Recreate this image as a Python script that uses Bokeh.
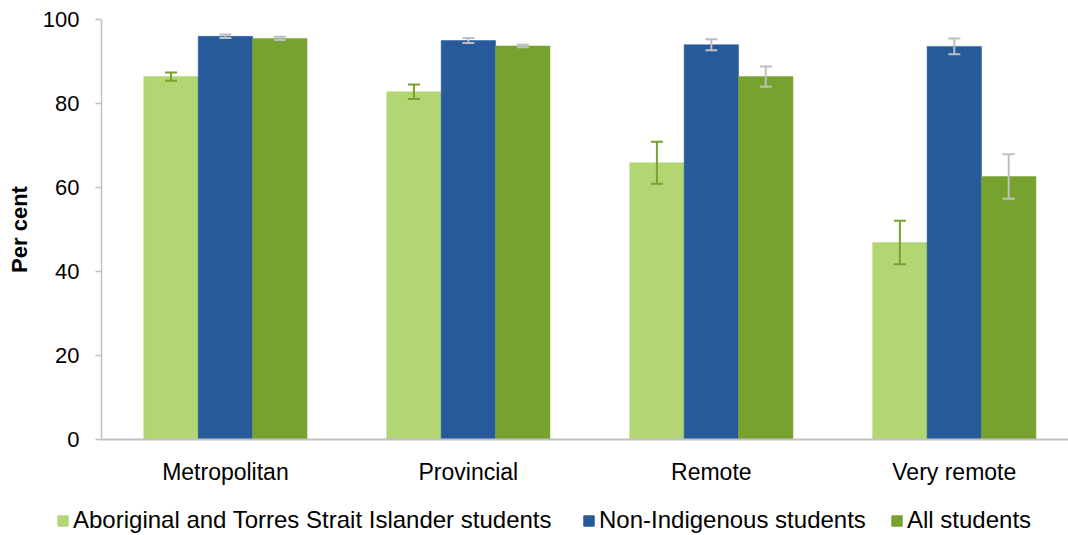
from bokeh.plotting import figure
from bokeh.models import (ColumnDataSource, Range1d, FixedTicker, Whisker, TeeHead,
                          Legend, LegendItem)
from bokeh.layouts import column
from bokeh.embed import file_html
from bokeh.resources import INLINE

# Remoteness areas
categories = ["Metropolitan", "Provincial", "Remote", "Very remote"]

# Per cent of students, with 95% confidence half-widths
indigenous = [86.4, 82.8, 65.9, 46.9]
indigenous_ci = [1.0, 1.7, 5.0, 5.2]
non_indigenous = [96.0, 95.0, 94.0, 93.6]
non_indigenous_ci = [0.4, 0.6, 1.3, 1.9]
all_students = [95.5, 93.7, 86.4, 62.6]
all_students_ci = [0.4, 0.3, 2.4, 5.3]

series_names = ["Aboriginal and Torres Strait Islander students",
                "Non-Indigenous students", "All students"]
y_ticks = [0, 20, 40, 60, 80, 100]

FONT = "Liberation Sans"
COLORS = ["#b3d675", "#265a9a", "#78a22f"]
ERR_COLORS = ["#78a22f", "#bfbfbf", "#bfbfbf"]
BAR_W = 0.224

p = figure(width=1068, height=495, output_backend="svg", toolbar_location=None,
           x_range=Range1d(0.49, 4.47), y_range=Range1d(0, 100),
           min_border_left=101, min_border_right=0, min_border_top=19,
           min_border_bottom=56)
p.frame_align = False
p.outline_line_color = None
p.grid.visible = False
p.background_fill_color = "white"
p.border_fill_color = "white"

x_pos = list(range(1, len(categories) + 1))
series = [(indigenous, indigenous_ci), (non_indigenous, non_indigenous_ci),
          (all_students, all_students_ci)]
offsets = [-BAR_W, 0.0, BAR_W]

for (vals, ci), off, col, ecol in zip(series, offsets, COLORS, ERR_COLORS):
    xs = [x + off for x in x_pos]
    src = ColumnDataSource(dict(x=xs, top=vals,
                                lo=[v - c for v, c in zip(vals, ci)],
                                hi=[v + c for v, c in zip(vals, ci)]))
    p.vbar(x="x", top="top", width=BAR_W, bottom=0, source=src,
           fill_color=col, line_color=col, line_width=0.5)
    w = Whisker(base="x", lower="lo", upper="hi", source=src, level="overlay",
                line_color=ecol, line_width=2,
                upper_head=TeeHead(size=12, line_color=ecol, line_width=2),
                lower_head=TeeHead(size=12, line_color=ecol, line_width=2))
    p.add_layout(w)

# y axis
yax = p.yaxis[0]
yax.ticker = FixedTicker(ticks=y_ticks)
yax.axis_line_color = "#c0c0c0"
yax.axis_line_width = 1.5
yax.major_tick_line_color = "#c0c0c0"
yax.major_tick_line_width = 1.5
yax.major_tick_out = 6
yax.major_tick_in = 0
yax.minor_tick_line_color = None
yax.major_label_standoff = 16
yax.major_label_text_font = FONT
yax.major_label_text_font_size = "22px"
yax.major_label_text_color = "black"
yax.axis_label = "Per cent"
yax.axis_label_text_font = FONT
yax.axis_label_text_font_style = "bold"
yax.axis_label_text_font_size = "22px"
yax.axis_label_text_color = "black"
yax.axis_label_standoff = 8

# x axis
xax = p.xaxis[0]
xax.ticker = FixedTicker(ticks=x_pos)
xax.major_label_overrides = {x: c for x, c in zip(x_pos, categories)}
xax.axis_line_color = "#c0c0c0"
xax.axis_line_width = 2
xax.major_tick_line_color = None
xax.minor_tick_line_color = None
xax.major_label_standoff = 13
xax.major_label_text_font = FONT
xax.major_label_text_font_size = "23px"
xax.major_label_text_color = "black"

# Legend strip underneath the chart
lf = figure(width=1068, height=40, output_backend="svg", toolbar_location=None,
            x_axis_location=None, y_axis_location=None,
            x_range=Range1d(0, 1), y_range=Range1d(0, 1),
            min_border_left=0, min_border_right=0, min_border_top=0,
            min_border_bottom=0)
lf.frame_align = False
lf.outline_line_color = None
lf.grid.visible = False

legend_x = [56, 582, 890]
for name, col, lx in zip(series_names, COLORS, legend_x):
    # key glyph kept outside the visible range; only its legend swatch shows
    key = lf.vbar(x=[5], top=[1], width=0.1, fill_color=col, line_color=col)
    lg = Legend(items=[LegendItem(label=name, renderers=[key])],
                location=(lx, 1), orientation="horizontal",
                border_line_color=None, background_fill_alpha=0,
                glyph_width=13, glyph_height=13, label_standoff=4,
                padding=0, margin=0, spacing=0,
                label_text_font=FONT, label_text_font_size="24px",
                label_text_color="black")
    lf.add_layout(lg, "center")

layout = column(p, lf, spacing=0)
open("out.html", "w").write(file_html(layout, INLINE))
